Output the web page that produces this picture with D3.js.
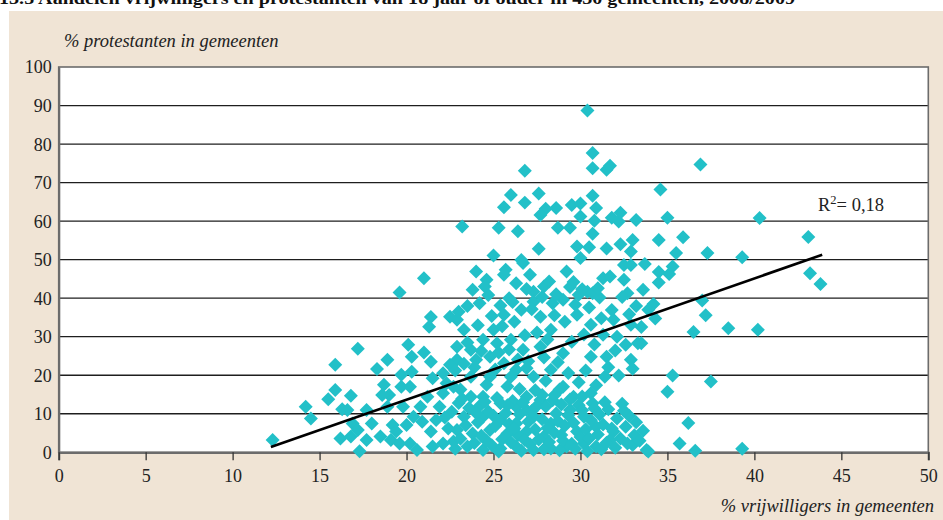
<!DOCTYPE html>
<html>
<head>
<meta charset="utf-8">
<script src="https://cdn.jsdelivr.net/npm/d3@7"></script>
<style>
  html, body { margin: 0; padding: 0; background: #ffffff; }
  svg { display: block; }
</style>
</head>
<body>
<svg id="chart" width="943" height="520"></svg>
<script>
// Share of volunteers (x) and protestants (y) per municipality, in percent
const volunteers = [
  12.3,14.2,14.5,15.9,17.2,19.6,21.0,23.2,26.8,30.4,30.7,30.7,31.5,31.7,36.9,34.6,40.3,43.1,43.2,43.8,
  39.3,37.3,37.0,37.2,36.5,38.5,40.2,35.3,35.0,37.5,36.2,35.7,36.6,39.3,33.9,35.5,33.7,34.5,35.3,35.1,
  34.5,33.6,34.2,33.9,34.3,33.5,33.5,34.5,35.9,35.0,33.2,32.2,32.3,31.8,30.8,30.0,30.9,30.0,29.5,28.6,
  28.0,27.7,30.7,26.0,27.6,26.8,25.6,25.3,26.4,28.7,29.4,30.7,29.8,30.5,31.5,32.3,33.0,32.9,27.6,25.0,
  26.6,30.0,
  24.0,24.6,25.7,25.6,26.7,27.1,26.3,27.9,27.3,28.2,29.2,29.6,29.9,30.4,30.7,31.3,31.7,32.5,32.9,32.5,
  32.7,23.8,24.2,25.9,25.6,26.6,27.3,27.7,28.4,29.0,29.8,30.6,31.2,31.9,32.1,31.5,30.6,32.9,33.3,32.9,
  31.4,29.0,28.3,28.3,27.7,26.7,26.0,25.2,25.0,24.4,22.9,23.3,22.9,23.7,22.9,24.0,24.8,25.6,26.3,26.9,
  27.3,26.0,24.8,23.7,22.7,23.7,24.4,25.4,26.3,26.9,27.7,29.0,29.6,30.6,30.7,30.2,29.4,28.6,28.3,27.3,
  26.3,25.4,24.4,23.3,22.9,23.8,24.8,25.8,26.9,27.9,28.9,29.8,30.9,31.9,32.6,31.7,33.0,33.8,30.9,30.2,
  29.2,28.3,27.3,26.3,25.4,24.4,23.5,22.7,
  21.4,21.3,22.5,20.1,20.3,21.0,18.9,18.3,19.7,21.4,20.3,21.5,22.5,18.7,19.0,19.7,20.2,15.9,15.5,16.8,
  16.3,16.6,17.7,18.0,16.9,17.2,16.2,16.8,17.3,18.6,18.9,19.2,18.5,17.7,19.1,19.4,20.0,20.4,20.8,21.2,
  20.9,21.4,21.7,21.9,22.1,22.3,19.8,19.6,20.2,20.6,21.5,22.1,23.5,23.0,
  22.4,22.6,23.0,23.1,23.4,23.6,23.9,24.1,24.2,24.6,24.7,24.9,25.1,25.2,25.5,25.7,25.9,26.0,26.1,26.4,
  26.5,26.6,26.8,26.9,27.0,27.1,27.4,27.5,27.6,27.8,27.9,28.0,28.1,28.2,28.4,28.5,28.7,28.8,28.9,29.0,
  29.1,29.3,29.5,29.6,29.7,29.9,30.0,30.1,30.3,30.4,30.5,30.6,30.8,31.0,31.1,31.2,31.3,31.5,31.6,31.8,
  32.0,32.1,32.3,32.4,32.7,32.8,33.1,33.2,33.4,22.2,22.8,23.2,24.0,24.3,25.0,25.3,25.8,26.2,27.2,29.4,
  30.1,31.4,32.5,33.6,24.5,26.7,28.5,27.8,
  22.1,22.8,23.3,23.5,23.9,24.1,24.3,24.6,24.9,25.1,25.3,25.5,25.8,25.9,26.2,26.4,26.5,26.8,27.0,27.2,
  27.4,27.5,27.9,28.0,28.1,28.5,28.7,28.8,29.1,29.3,29.5,29.7,29.9,30.2,30.3,30.5,30.8,30.9,31.1,31.3,
  31.6,31.8,32.0,32.2,32.4,32.6,32.8,33.0,33.2,31.0,30.1,29.4,28.6,27.8,26.9,26.1,25.4,24.7,24.5,23.1
];
const protestants = [
  3.2,11.8,8.8,22.7,26.9,41.5,45.2,58.6,73.1,88.7,77.7,73.7,73.3,74.4,74.7,68.2,60.8,55.9,46.5,43.7,
  50.6,51.7,39.4,35.6,31.2,32.2,31.8,19.9,15.7,18.4,7.6,2.3,0.4,0.9,0.2,51.7,48.9,46.8,48.2,46.3,
  44.1,42.2,38.5,37.0,34.7,32.5,28.3,55.1,55.8,60.9,60.3,59.9,62.2,60.9,60.1,61.2,63.4,64.6,64.2,63.4,
  63.2,61.6,66.6,66.8,67.2,64.8,63.6,58.3,57.4,58.3,58.3,56.7,53.4,53.2,52.9,54.0,55.1,52.1,52.8,51.1,
  49.9,50.4,
  46.9,44.8,47.4,46.1,49.1,46.1,43.9,43.0,41.7,44.3,46.9,44.2,40.9,41.7,41.3,45.2,45.6,48.6,48.6,44.8,
  41.3,42.2,38.7,40.0,35.7,37.0,39.1,35.2,38.7,39.6,35.7,33.1,34.8,34.4,30.0,24.8,24.8,33.1,28.3,24.0,
  19.6,25.7,31.8,21.4,27.4,26.6,29.2,28.3,31.8,29.2,34.4,31.8,27.4,26.6,24.0,24.0,24.8,23.1,21.4,21.8,
  19.6,19.6,19.6,19.6,17.0,14.4,14.4,12.7,11.8,14.4,13.6,17.0,14.4,15.3,12.7,9.2,11.0,10.1,7.5,9.2,
  7.5,8.4,9.2,9.2,5.8,4.9,5.8,4.9,5.4,4.1,4.5,5.4,6.6,5.4,6.6,3.2,1.9,0.6,1.5,2.3,
  1.5,1.0,0.6,1.5,1.0,0.6,1.5,2.8,
  35.1,32.6,35.2,27.9,24.8,25.9,24.0,21.6,20.1,23.5,20.9,19.2,22.7,17.5,14.9,17.0,17.0,16.2,13.8,14.7,
  11.2,11.0,11.0,7.5,7.5,5.8,3.6,4.1,0.3,14.9,11.8,7.1,4.1,3.2,3.2,5.4,7.1,9.2,11.8,14.4,
  7.9,5.4,8.4,11.8,15.3,17.9,11.8,2.3,2.3,0.6,1.5,2.3,38.0,36.5,
  6.2,10.5,12.8,3.5,7.0,11.5,2.4,7.8,12.0,3.0,10.6,1.8,6.8,14.1,3.4,10.2,7.3,2.6,13.3,4.4,
  9.9,0.4,3.2,11.0,7.9,2.1,5.9,12.1,3.3,8.6,0.8,11.9,6.3,2.7,13.5,5.1,8.1,0.5,12.4,3.0,
  6.9,9.6,2.2,7.7,0.9,12.2,4.0,10.9,6.0,0.3,3.6,8.3,11.4,4.6,9.8,0.8,7.2,2.5,11.2,6.2,
  1.2,8.8,3.6,12.6,2.3,9.5,4.4,7.8,3.0,9.0,0.9,13.9,10.2,4.3,9.5,0.2,12.2,6.2,10.7,13.7,
  14.5,13.0,10.8,5.6,13.1,13.0,14.8,14.9,
  20.5,21.2,23.0,28.5,22.1,33.0,26.3,17.5,35.4,21.5,25.9,32.7,17.1,26.7,33.9,24.1,16.4,30.4,23.6,37.1,
  16.1,31.1,24.6,18.6,29.3,35.6,23.4,16.3,33.9,20.6,28.7,38.3,18.2,30.6,21.2,37.6,28.0,17.4,40.2,30.5,
  22.1,36.9,26.4,19.9,40.3,27.9,35.8,21.7,38.0,42.6,42.3,42.9,41.0,40.3,42.4,39.0,38.1,40.8,43.0,16.3
];

// Linear trend (least squares) and its fit
const trendSlope = 1.573;
const trendIntercept = -17.8;
const trendFrom = 12.2;
const trendTo = 43.9;
const rSquared = "0,18";

const xTicks = [0, 5, 10, 15, 20, 25, 30, 35, 40, 45, 50];
const yTicks = [0, 10, 20, 30, 40, 50, 60, 70, 80, 90, 100];

const titleText = "13.5 Aandelen vrijwilligers en protestanten van 18 jaar of ouder in 430 gemeenten, 2008/2009";
const yTitle = "% protestanten in gemeenten";
const xTitle = "% vrijwilligers in gemeenten";

const points = volunteers.map((v, i) => ({ x: v, y: protestants[i] }));

const svg = d3.select("#chart");
const serif = "'Liberation Serif', 'DejaVu Serif', serif";

const plot = { left: 58.7, right: 928.3, top: 67, bottom: 452.3 };

const x = d3.scaleLinear().domain([0, 50]).range([plot.left, plot.right]);
const y = d3.scaleLinear().domain([0, 100]).range([plot.bottom, plot.top]);

// Title line (partly above the frame)
svg.append("text")
  .attr("x", -1).attr("y", 4)
  .attr("font-family", serif).attr("font-weight", "bold").attr("font-size", 16)
  .attr("textLength", 796).attr("lengthAdjust", "spacingAndGlyphs")
  .attr("fill", "#111")
  .text(titleText);

// Beige frame
svg.append("rect")
  .attr("x", 9).attr("y", 11).attr("width", 943 - 9).attr("height", 520 - 11)
  .attr("fill", "#f0e4d5");

// White plotting area
svg.append("rect")
  .attr("x", plot.left).attr("y", plot.top)
  .attr("width", plot.right - plot.left).attr("height", plot.bottom - plot.top)
  .attr("fill", "#ffffff");

// Horizontal gridlines
svg.append("g")
  .selectAll("line")
  .data(yTicks.filter(t => t > 0 && t < 100))
  .join("line")
  .attr("x1", plot.left).attr("x2", plot.right)
  .attr("y1", d => y(d)).attr("y2", d => y(d))
  .attr("stroke", "#1e1e1e").attr("stroke-width", 1.3);

// Frame of the plotting area
svg.append("rect")
  .attr("x", plot.left).attr("y", plot.top)
  .attr("width", plot.right - plot.left).attr("height", plot.bottom - plot.top)
  .attr("fill", "none").attr("stroke", "#6c6c6c").attr("stroke-width", 1.6);

// Y axis
const yAxis = svg.append("g")
  .attr("transform", `translate(${plot.left},0)`)
  .call(d3.axisLeft(y).tickValues(yTicks).tickSize(0).tickPadding(7));
yAxis.select(".domain").attr("stroke", "#6c6c6c").attr("stroke-width", 2.2);
yAxis.selectAll("text")
  .attr("font-family", serif).attr("font-size", 18).attr("fill", "#222")
  .attr("dy", "0.33em");

// X axis
const xAxis = svg.append("g")
  .attr("transform", `translate(0,${plot.bottom})`)
  .call(d3.axisBottom(x).tickValues(xTicks).tickSize(8).tickPadding(9));
xAxis.select(".domain").attr("stroke", "#6c6c6c").attr("stroke-width", 2.2);
xAxis.selectAll(".tick line").attr("stroke", "#333").attr("stroke-width", 1.3);
xAxis.selectAll("text")
  .attr("font-family", serif).attr("font-size", 18).attr("fill", "#222");

// Scatter of municipalities as diamonds
const diamond = d3.symbol().type(d3.symbolSquare).size(98);
svg.append("g")
  .selectAll("path")
  .data(points)
  .join("path")
  .attr("d", diamond)
  .attr("transform", d => `translate(${x(d.x)},${y(d.y)}) rotate(45)`)
  .attr("fill", "#22c0c8");

// Trend line
const trendLine = d3.line().x(d => x(d)).y(d => y(trendSlope * d + trendIntercept));
svg.append("path")
  .datum([trendFrom, trendTo])
  .attr("d", trendLine)
  .attr("fill", "none").attr("stroke", "#000").attr("stroke-width", 2.7);

// R-squared annotation
const r2 = svg.append("text")
  .attr("x", 818).attr("y", 211)
  .attr("font-family", serif).attr("font-size", 18.5).attr("fill", "#222");
r2.append("tspan").text("R");
r2.append("tspan").attr("font-size", 12.5).attr("dy", -7).text("2");
r2.append("tspan").attr("dy", 7).text("= " + rSquared);

// Axis titles
svg.append("text")
  .attr("x", 64).attr("y", 47)
  .attr("font-family", serif).attr("font-style", "italic").attr("font-size", 18.5)
  .attr("fill", "#222")
  .text(yTitle);

svg.append("text")
  .attr("x", 934).attr("y", 512)
  .attr("text-anchor", "end")
  .attr("font-family", serif).attr("font-style", "italic").attr("font-size", 18.5)
  .attr("fill", "#222")
  .text(xTitle);
</script>
</body>
</html>
